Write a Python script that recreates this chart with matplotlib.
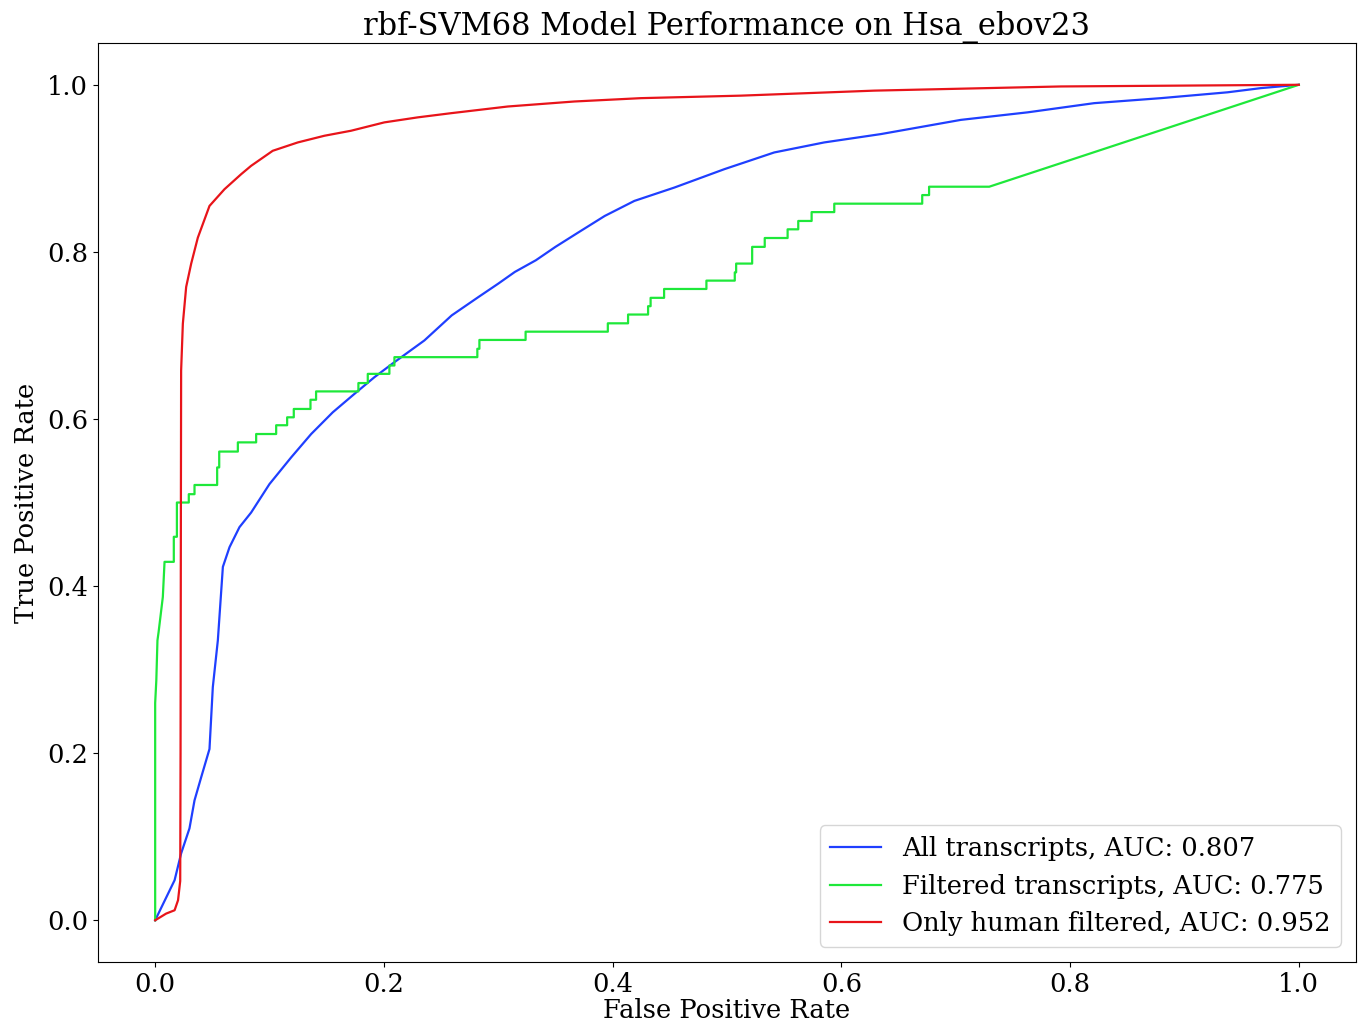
import matplotlib
matplotlib.use("Agg")
import matplotlib.pyplot as plt

plt.rcParams['font.family'] = 'DejaVu Serif'

#--------------------ROC points--------------------
# all transcripts
fpr_all = [0, 0.017, 0.0227, 0.030, 0.0344, 0.0402, 0.0475, 0.0504, 0.0548, 0.0592,
           0.065, 0.0737, 0.0839, 0.0999, 0.1189, 0.1364, 0.1553, 0.1742, 0.1917,
           0.2092, 0.2354, 0.2593, 0.2827, 0.3000, 0.3145, 0.3329, 0.350, 0.3697,
           0.3931, 0.419, 0.454, 0.4977, 0.5413, 0.585, 0.6346, 0.7045, 0.7628,
           0.821, 0.8794, 0.9377, 0.9668, 1.0]
tpr_all = [0, 0.048, 0.080, 0.110, 0.1435, 0.171, 0.205, 0.279, 0.335, 0.423,
           0.4465, 0.4705, 0.488, 0.522, 0.554, 0.582, 0.608, 0.630, 0.650,
           0.668, 0.694, 0.724, 0.746, 0.762, 0.776, 0.790, 0.806, 0.823,
           0.843, 0.861, 0.877, 0.899, 0.919, 0.931, 0.941, 0.958, 0.967,
           0.978, 0.984, 0.991, 0.996, 1.0]

# filtered transcripts (step curve)
fpr_filt = [0, 0, 0.001, 0.002, 0.003, 0.0067, 0.0082, 0.0163, 0.0163, 0.019, 0.019,
            0.0294, 0.0294, 0.0344, 0.0344, 0.0542, 0.0542, 0.056, 0.056, 0.0723,
            0.0723, 0.0883, 0.0883, 0.1058, 0.1058, 0.1154, 0.1154, 0.1212, 0.1212,
            0.1358, 0.1358, 0.1407, 0.1407, 0.1777, 0.1777, 0.1859, 0.1859, 0.2048,
            0.2048, 0.2092, 0.2092, 0.2817, 0.2817, 0.2835, 0.2835, 0.3239, 0.3239,
            0.3958, 0.3958, 0.4135, 0.4135, 0.431, 0.431, 0.4332, 0.4332, 0.445,
            0.445, 0.482, 0.482, 0.5068, 0.5068, 0.508, 0.508, 0.522, 0.522, 0.533,
            0.533, 0.553, 0.553, 0.5623, 0.5623, 0.574, 0.574, 0.5938, 0.5938,
            0.6707, 0.6707, 0.6767, 0.6767, 0.7293, 1.0]
tpr_filt = [0, 0.26, 0.287, 0.335, 0.345, 0.387, 0.429, 0.429, 0.459, 0.459, 0.500,
            0.500, 0.510, 0.510, 0.521, 0.521, 0.542, 0.542, 0.561, 0.561,
            0.572, 0.572, 0.582, 0.582, 0.5925, 0.5925, 0.602, 0.602, 0.612,
            0.612, 0.623, 0.623, 0.633, 0.633, 0.643, 0.643, 0.654, 0.654,
            0.664, 0.664, 0.674, 0.674, 0.684, 0.684, 0.6946, 0.6946, 0.7045,
            0.7045, 0.7145, 0.7145, 0.725, 0.725, 0.735, 0.735, 0.745, 0.745,
            0.7556, 0.7556, 0.7656, 0.7656, 0.7755, 0.7755, 0.786, 0.786, 0.806, 0.806,
            0.8166, 0.8166, 0.827, 0.827, 0.837, 0.837, 0.8476, 0.8476, 0.8577,
            0.8577, 0.868, 0.868, 0.878, 0.878, 1.0]

# only human filtered
fpr_hum = [0, 0.0096, 0.017, 0.020, 0.0219, 0.0222, 0.0225, 0.0227, 0.0242, 0.0271,
           0.0315, 0.0373, 0.0475, 0.0606, 0.0752, 0.0839, 0.1028, 0.1247, 0.148,
           0.1713, 0.2004, 0.2296, 0.2587, 0.3083, 0.3665, 0.4248, 0.5122, 0.6288,
           0.792, 1.0]
tpr_hum = [0, 0.008, 0.012, 0.024, 0.047, 0.2, 0.5, 0.658, 0.714, 0.758,
           0.786, 0.817, 0.855, 0.875, 0.893, 0.903, 0.921, 0.931, 0.939,
           0.945, 0.955, 0.961, 0.966, 0.974, 0.980, 0.984, 0.987, 0.993,
           0.998, 1.0]

labels = ['All transcripts, AUC: 0.807',
          'Filtered transcripts, AUC: 0.775',
          'Only human filtered, AUC: 0.952']
colors = ['#1f3fff', '#1ee83a', '#e8141a']

#--------------------Plot--------------------
fig = plt.figure(figsize=(13.59, 10.24), dpi=100)
ax = fig.add_axes([0.0721, 0.0605, 0.9257, 0.8975])

ax.plot(fpr_all, tpr_all, color=colors[0], lw=1.6, label=labels[0])
ax.plot(fpr_filt, tpr_filt, color=colors[1], lw=1.6, label=labels[1])
ax.plot(fpr_hum, tpr_hum, color=colors[2], lw=1.6, label=labels[2])

ax.set_title('rbf-SVM68 Model Performance on Hsa_ebov23', fontsize=22, pad=4)
ax.set_xlabel('False Positive Rate', fontsize=18.5, labelpad=1)
ax.set_ylabel('True Positive Rate', fontsize=18.5, labelpad=6)
ax.tick_params(labelsize=18.5)
ax.legend(loc='lower right', fontsize=18.5, borderaxespad=0.6)

fig.savefig('out.png', dpi=100)
